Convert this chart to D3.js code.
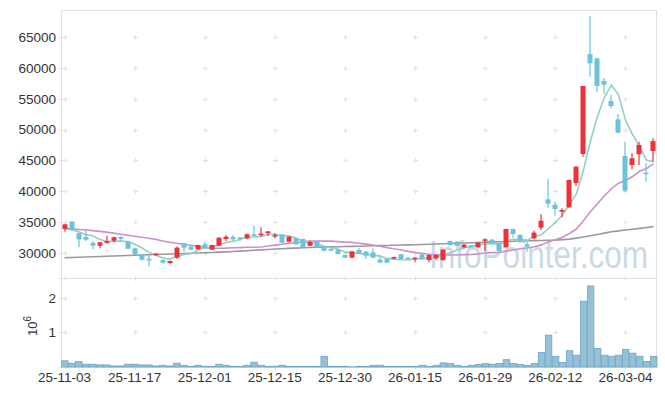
<!DOCTYPE html>
<html><head><meta charset="utf-8">
<script src="https://cdn.jsdelivr.net/npm/d3@7/dist/d3.min.js"></script>
<style>
html,body{margin:0;padding:0;background:#fff;}
svg text{font-family:"Liberation Sans",Arial,sans-serif;}
</style></head>
<body><svg id="c" width="665" height="396"></svg>
<script>
const dates = ["25-11-03","25-11-04","25-11-05","25-11-06","25-11-07","25-11-10","25-11-11","25-11-12","25-11-13","25-11-14",
"25-11-17","25-11-18","25-11-19","25-11-20","25-11-21","25-11-24","25-11-25","25-11-26","25-11-27","25-11-28",
"25-12-01","25-12-02","25-12-03","25-12-04","25-12-05","25-12-08","25-12-09","25-12-10","25-12-11","25-12-12",
"25-12-15","25-12-16","25-12-17","25-12-18","25-12-19","25-12-22","25-12-23","25-12-24","25-12-26","25-12-29",
"25-12-30","26-01-02","26-01-05","26-01-06","26-01-07","26-01-08","26-01-09","26-01-12","26-01-13","26-01-14",
"26-01-15","26-01-16","26-01-19","26-01-20","26-01-21","26-01-22","26-01-23","26-01-26","26-01-27","26-01-28",
"26-01-29","26-01-30","26-02-02","26-02-03","26-02-04","26-02-05","26-02-06","26-02-09","26-02-10","26-02-11",
"26-02-12","26-02-13","26-02-19","26-02-20","26-02-23","26-02-24","26-02-25","26-02-26","26-02-27","26-03-03",
"26-03-04","26-03-05","26-03-06","26-03-09","26-03-10"];

const open = [33850,35050,33200,32550,31580,31140,31600,31950,32550,31790,
30700,29735,29000,29650,28800,28330,29190,31520,30980,30550,
31360,30490,31140,32230,32550,32500,32340,32990,33050,33150,
32800,32990,31790,32340,32230,31140,31900,31040,30600,30490,
29630,29190,30440,30170,30060,28870,28980,29080,29740,29200,
28980,29740,28810,29080,28810,31900,31790,30870,31200,30870,
32010,32120,31520,30870,33850,32880,31360,32340,34070,38670,
37800,36670,37370,41300,46040,62290,61590,57900,54650,51670,
45710,44250,45990,43000,46530];
const high = [34700,35050,33200,33530,31900,31750,32770,32600,32700,31900,
30800,29800,29620,29950,28900,28750,31000,31600,31100,31300,
31790,31300,32500,32880,32880,32550,33100,34390,34120,33500,
33150,33000,32650,32400,32300,31950,31950,31100,30700,30600,
29700,30250,30820,30250,30710,29620,29000,29350,29800,29300,
29250,29800,29700,29700,30600,32000,31900,31400,31250,31700,
32330,32200,31600,33900,33900,33050,31790,33580,36230,41980,
38290,37210,41900,44000,57100,68460,61600,58400,55630,52540,
48040,46150,48040,44500,48590];
const low = [33400,33600,30870,31900,30550,30700,31500,31700,31900,30600,
29650,28700,27730,29500,28200,28150,29000,30170,30400,30500,
30650,30450,31100,31900,31950,31900,32200,32700,32600,32770,
32350,31600,31700,31300,30800,31100,30750,30250,30250,29700,
29100,29100,29850,28980,29100,28350,28350,28900,28900,28900,
28440,28850,28440,28810,28700,31200,31000,30800,30800,30800,
30280,31400,30200,30800,32440,31520,30170,32170,33690,37320,
36020,35750,37300,40840,45600,58600,56060,55800,53460,49400,
39920,43550,44250,41540,44790];
const close = [34600,33700,32170,32120,31140,31690,31900,32500,32250,30650,
29735,28870,28950,29840,28380,28650,30820,30820,30490,31250,
30710,31250,32440,32600,32170,32280,32990,32710,33100,33470,
32850,31630,32600,31360,30870,31740,30820,30330,30330,29790,
29190,30220,29900,29520,29190,28380,28380,29300,28980,28980,
29190,28920,29630,29630,30490,31250,31140,31310,30870,31630,
32170,31520,30280,33850,33040,32060,30980,33260,35200,37970,
37100,36940,41810,43980,57090,60770,57090,57300,53840,49500,
40080,45340,47500,42800,48150];
const volume = [0.18,0.11,0.16,0.08,0.08,0.06,0.06,0.03,0.03,0.08,
0.08,0.06,0.06,0.03,0.05,0.03,0.11,0.05,0.02,0.05,
0.02,0.02,0.08,0.05,0.02,0.02,0.05,0.14,0.05,0.02,
0.02,0.05,0.02,0.02,0.02,0.02,0.02,0.31,0.02,0.02,
0.02,0.005,0.02,0.02,0.05,0.05,0.02,0.02,0.02,0.02,
0.02,0.05,0.02,0.05,0.12,0.10,0.05,0.02,0.05,0.07,
0.10,0.08,0.10,0.21,0.10,0.07,0.05,0.10,0.42,0.92,
0.31,0.13,0.47,0.34,1.90,2.34,0.54,0.34,0.31,0.34,
0.51,0.40,0.31,0.16,0.31];
const ma5 = [33950,33750,33400,32950,32746,32164,31804,31870,31896,31798,
31407,30801,30091,29609,29155,28938,29328,29702,29832,30406,
30818,30904,31228,31650,31834,32148,32496,32550,32650,32910,
33024,32752,32730,32382,31862,31640,31478,31024,30818,30602,
30092,29972,29886,29724,29604,29442,29074,28954,28846,28804,
28966,29074,29140,29270,29572,29984,30428,30764,31012,31240,
31424,31500,31294,31890,32172,32150,32042,32638,32908,33894,
34902,36094,37804,39560,43384,48118,52148,55246,57218,55700,
51562,49212,47252,45044,44774];
const ma20 = [33960,33870,33780,33690,33590,33470,33340,33180,33000,32840,
32680,32520,32350,32170,31900,31700,31540,31380,31200,31026,
30832,30709,30723,30747,30798,30828,30882,30893,30935,31076,
31232,31370,31553,31629,31753,31908,31908,31883,31875,31802,
31726,31675,31548,31394,31245,31050,30819,30649,30443,30218,
30035,29900,29751,29665,29646,29621,29637,29686,29713,29805,
29954,30019,30038,30255,30447,30631,30761,30959,31270,31720,
32115,32516,33125,33843,35173,36649,37946,39246,40394,41288,
41683,42374,43235,43683,44438];
const maLong = [29190,29230,29270,29300,29340,29380,29420,29460,29500,29540,
29580,29620,29660,29700,29740,29790,29830,29870,29910,29950,
29990,30040,30090,30140,30200,30250,30320,30390,30460,30530,
30600,30650,30700,30750,30800,30850,30880,30910,30940,30970,
31000,31030,31060,31090,31120,31150,31180,31210,31240,31270,
31300,31340,31380,31420,31460,31500,31540,31580,31620,31660,
31700,31740,31780,31820,31860,31900,31930,31960,31990,32020,
32050,32120,32200,32370,32550,32750,32950,33180,33400,33550,
33700,33820,33950,34090,34230];
const priceTicks = [30000,35000,40000,45000,50000,55000,60000,65000];
const volTicks = [1,2];
const xTickLabels = ["25-11-03","25-11-17","25-12-01","25-12-15","25-12-30","26-01-15","26-01-29","26-02-12","26-03-04"];

const L = 61, R = 657, PT = 10, PB = 278, VT = 278, VB = 367;
const svg = d3.select("#c");
const x = d3.scaleBand().domain(dates).range([L, R]).padding(0);
const cx = d => x(d) + x.bandwidth() / 2;
const y = d3.scaleLinear().domain([25889, 69436]).range([PB, PT]);
const yv = d3.scaleLinear().domain([0, 2.5685]).range([VB, VT]);

const frame = "#e2e2e2", gridc = "#e3e3e3";
[[PT, PB], [VT, VB]].forEach(([t, b]) => {
  svg.append("rect").attr("x", L + 0.5).attr("y", t + 0.5).attr("width", R - L - 1).attr("height", b - t)
    .attr("fill", "none").attr("stroke", frame).attr("stroke-width", 1);
});

function crosses(ys) {
  const g = svg.append("g").attr("stroke", gridc).attr("stroke-width", 1);
  xTickLabels.forEach(lbl => {
    const px = Math.round(cx(lbl)) + 0.5;
    ys.forEach(py => {
      py = Math.round(py) + 0.5;
      g.append("line").attr("x1", px - 2.5).attr("x2", px + 2.5).attr("y1", py).attr("y2", py);
      g.append("line").attr("x1", px).attr("x2", px).attr("y1", py - 2.5).attr("y2", py + 2.5);
    });
  });
  ys.forEach(py => {
    py = Math.round(py) + 0.5;
    g.append("line").attr("x1", L - 2).attr("x2", L + 3).attr("y1", py).attr("y2", py);
  });
}
crosses(priceTicks.map(y).concat([PB]));
crosses(volTicks.map(yv).concat([VB]));

// watermark
svg.append("text").attr("transform", "translate(429,268) scale(0.83,1)").attr("font-size", 38)
  .attr("fill", "#c4d7e4").attr("opacity", 0.9).text("InfoPointer.com");

const fontFam = "Liberation Sans, Arial, sans-serif";
const ya = svg.append("g").attr("transform", `translate(${L},0)`)
  .call(d3.axisLeft(y).tickValues(priceTicks).tickSize(0).tickPadding(5).tickFormat(d3.format("d")));
ya.select(".domain").remove();
ya.selectAll("text").attr("font-size", 13.5).attr("fill", "#333").attr("font-family", fontFam);

const yva = svg.append("g").attr("transform", `translate(${L},0)`)
  .call(d3.axisLeft(yv).tickValues(volTicks).tickSize(0).tickPadding(5).tickFormat(d3.format("d")));
yva.select(".domain").remove();
yva.selectAll("text").attr("font-size", 13.5).attr("fill", "#333").attr("font-family", fontFam);

const xa = svg.append("g").attr("transform", `translate(0,${VB})`)
  .call(d3.axisBottom(x).tickValues(xTickLabels).tickSize(0).tickPadding(5));
xa.select(".domain").remove();
xa.selectAll("text").attr("font-size", 13.5).attr("fill", "#333").attr("font-family", fontFam);

const vl = svg.append("text").attr("transform", "translate(37,326) rotate(-90)")
  .attr("font-size", 13).attr("fill", "#333").attr("text-anchor", "middle");
vl.append("tspan").text("10");
vl.append("tspan").attr("dy", -6).attr("font-size", 10).text("6");

const vdata = dates.map((d, i) => ({d, v: volume[i]}));
svg.append("g").selectAll("rect").data(vdata).join("rect")
  .attr("x", d => x(d.d) + 0.5).attr("width", x.bandwidth() - 0.5)
  .attr("y", d => yv(d.v)).attr("height", d => VB - yv(d.v))
  .attr("fill", "#95c0d6").attr("stroke", "#6fa6c6").attr("stroke-width", 0.8);

function maLine(arr, color) {
  svg.append("path").datum(arr)
    .attr("d", d3.line().x((v, i) => cx(dates[i])).y(v => y(v)))
    .attr("fill", "none").attr("stroke", color).attr("stroke-width", 1.6);
}
maLine(maLong, "#9a9a9a");
maLine(ma20, "#cd90c9");
maLine(ma5, "#93d0c4");

const up = "#ec3238", dn = "#6cc1dc";
const cdata = dates.map((d, i) => ({d, o: open[i], h: high[i], l: low[i], c: close[i]}));
const cg = svg.append("g");
const bw = Math.round(x.bandwidth() * 0.72);
cdata.forEach(k => {
  const col = k.c >= k.o ? up : dn;
  const px = Math.round(cx(k.d));
  cg.append("line").attr("x1", px).attr("x2", px).attr("y1", y(k.h)).attr("y2", y(k.l))
    .attr("stroke", col).attr("stroke-width", 1.2);
  const top = y(Math.max(k.o, k.c)), bot = y(Math.min(k.o, k.c));
  cg.append("rect").attr("x", px - bw / 2).attr("width", bw)
    .attr("y", top).attr("height", Math.max(1.5, bot - top)).attr("fill", col);
});
</script></body></html>
